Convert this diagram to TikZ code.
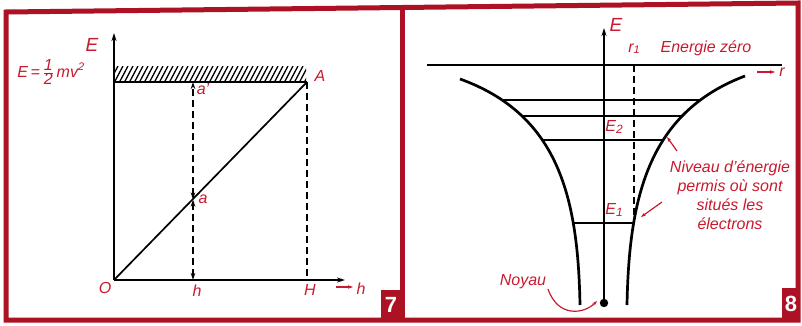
\documentclass[tikz,border=0pt]{standalone}
\usepackage{fontspec}
\setmainfont{Liberation Sans}
\usetikzlibrary{arrows.meta,intersections}
\definecolor{framered}{RGB}{172,18,36}
\definecolor{labred}{RGB}{200,26,46}
\begin{document}
\begin{tikzpicture}[x=1pt,y=-1pt,
  lab/.style={text=labred,font=\fontsize{16}{19}\selectfont\itshape,inner sep=0pt},
  biglab/.style={text=labred,font=\fontsize{19}{19}\selectfont\itshape,inner sep=0pt},
  ink/.style={line width=1.7pt,black},
  curve/.style={line width=2.7pt,black},
  dashln/.style={line width=1.7pt,dash pattern=on 7pt off 4pt},
  tip/.style={-{Stealth[length=8pt,width=5pt]}},
  redtip/.style={draw=labred,line width=1.2pt,-{Stealth[length=5pt,width=3.5pt]}},
  frame/.style={draw=framered,line width=5pt},
  badge/.style={fill=framered,text=white,font=\fontsize{22}{22}\selectfont\bfseries,inner sep=0pt}]
\useasboundingbox (0,0) rectangle (802,326);
% frame
\draw[frame,line join=miter] (6,12) -- (798,3) -- (798,320) -- (6,320) -- cycle;
\draw[frame] (402,7) -- (402,320);
\node[badge,minimum width=21pt,minimum height=30pt] (b7) at (391,305) {7};
\node[badge,minimum width=18pt,minimum height=32pt] (b8) at (791,304) {8};

% ---------- panel 7 ----------
\coordinate (O) at (114,280);
\coordinate (Etop) at (114,33);
\coordinate (Hend) at (345,280);
\coordinate (T) at (114,82);
\coordinate (A) at (307,82);
\coordinate (Hp) at (307,280);
\coordinate (ap) at (193,82);
\coordinate (a) at (193,199.5);
\coordinate (h) at (193,280);
\begin{scope}
\clip (114,67) rectangle (306,82);
\foreach \x in {104,109,...,310} \draw[line width=1.3pt] (\x,83) -- (\x+9,66);
\end{scope}
\draw[ink,tip] (O) -- (Etop);
\draw[ink,tip] (O) -- (Hend);
\draw[ink] (T) -- (A);
\draw[ink] (O) -- (A);
\draw[dashln] (A) -- (Hp);
\draw[dashln,{Stealth[length=7pt,width=4.5pt]}-{Stealth[length=7pt,width=4.5pt]}] (h) -- (a);
\draw[dashln,{Stealth[length=7pt,width=4.5pt]}-{Stealth[length=7pt,width=4.5pt]}] (a) -- (ap);
\node[biglab] (lE7) at (92,45) {E};
\node[lab] (lform) at (51,72) {E\,=\,$\frac{\mbox{1}}{\mbox{2}}$\,mv$^{\mbox{\fontsize{11}{11}\selectfont\itshape 2}}$};
\node[lab] (lA) at (320,76) {A};
\node[lab] (lap) at (203,89) {a'};
\node[lab] (la) at (203,199) {a};
\node[lab] (lO) at (105,288) {O};
\node[lab] (lh) at (197,291) {h};
\node[lab] (lH) at (310,290) {H};
\coordinate (hs) at (336,287);
\coordinate (he) at (353,287);
\draw[redtip] (hs) -- (he);
\node[lab] (lh2) at (361,289) {h};

% ---------- panel 8 ----------
\coordinate (nuc) at (604,303);
\coordinate (Etop8) at (604,28);
\coordinate (zl) at (427,65);
\coordinate (zr) at (782,65);
\draw[ink,tip] (nuc) -- (Etop8);
\draw[ink] (zl) -- (zr);
\draw[curve,name path=Lc] (460,79) .. controls (560,115) and (578,200) .. (580,305);
\draw[curve,name path=Rc] (745,76) .. controls (647,113) and (629,200) .. (627,305);
\foreach \yy/\nm in {100/1,116/2,140/3,223/4}{
  \path[name path=lv] (430,\yy) -- (780,\yy);
  \path[name intersections={of=Lc and lv,by=L\nm}];
  \path[name intersections={of=Rc and lv,by=R\nm}];
  \draw[ink] (L\nm) -- (R\nm);
}
\coordinate (r1top) at (R4 |- zl);
\draw[dashln] (r1top) -- (R4);
\fill (nuc) circle (4.2pt);
\node[biglab] (lE8) at (616,25) {E};
\node[lab] (lr1) at (634,49) {r\raisebox{-1pt}{\fontsize{11}{11}\selectfont 1}};
\node[lab] (lzero) at (706,48) {Energie zéro};
\coordinate (rs) at (757,72);
\coordinate (re) at (775,72);
\draw[redtip] (rs) -- (re);
\node[lab] (lr) at (782,72) {r};
\node[lab] (lE2) at (614,127) {E\raisebox{-2pt}{\fontsize{12}{12}\selectfont 2}};
\node[lab] (lE1) at (614,210) {E\raisebox{-2pt}{\fontsize{12}{12}\selectfont 1}};
\node[lab,align=center] (lniv) at (730,195) {Niveau d'énergie\\permis où sont\\situés les\\électrons};
\coordinate (n1s) at (677,151);
\coordinate (n1e) at (667,137);
\coordinate (n2s) at (662,202);
\coordinate (n2e) at (641,217);
\draw[redtip] (n1s) -- (n1e);
\draw[redtip] (n2s) -- (n2e);
\node[lab] (lnoy) at (523,282) {Noyau};
\coordinate (ns) at (548,289);
\draw[redtip] (ns) .. controls (558,318) and (584,314) .. (597,301);
\end{tikzpicture}
\end{document}
